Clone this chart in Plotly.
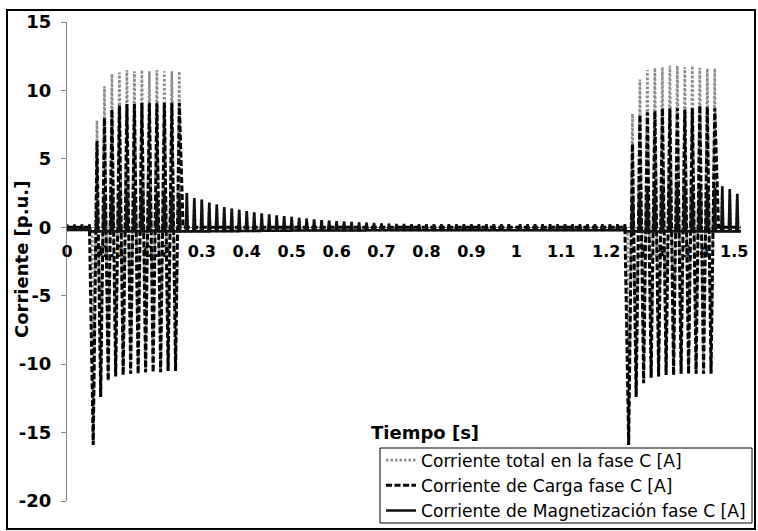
import numpy as np
import plotly.graph_objects as go

# ---------------- data ----------------
FREQ_HZ = 60.0
PERIOD = 1.0 / FREQ_HZ
HALF_PERIOD = PERIOD / 2.0
N_HALF = 181                     # half-period samples covering 0 .. 1.5 s

# Magnetising current: one pulse peak per cycle.
# Part A: pulses at t = k/60, k = 0..59 ; Part B: pulses at t = (k+0.5)/60, k = 60..89
mag_peaks = [0.2, 0.2, 0.2, 0.2,
             1.8, 2.4, 2.6, 2.6, 2.6, 2.6, 2.6, 2.5, 2.5, 2.5, 2.5, 2.5,
             2.5, 2.14, 2.02, 1.8, 1.66, 1.48, 1.36, 1.27, 1.18, 1.1, 1.02,
             0.94, 0.88, 0.81, 0.76, 0.69, 0.63, 0.57, 0.52, 0.49, 0.45,
             0.42, 0.39, 0.36, 0.33, 0.31, 0.29, 0.27, 0.25, 0.24, 0.23,
             0.23, 0.22, 0.22, 0.22, 0.22, 0.22, 0.22, 0.22, 0.22, 0.22,
             0.22, 0.22, 0.22,
             0.22, 0.22, 0.22, 0.22, 0.22, 0.22, 0.22, 0.22, 0.22, 0.22,
             0.22, 0.22, 0.22, 0.22, 0.22,
             2.2, 2.6, 3.0, 3.1, 3.0, 3.1, 3.1, 3.0, 3.0, 2.8, 2.8, 2.9,
             3.0, 2.8, 2.45]
# level of the magnetising current between a pulse and the next one
mag_lows = [-0.2, -0.2, -0.2,
            -0.3, -0.3, -0.3, -0.3, -0.3, -0.3, -0.3, -0.3, -0.3, -0.3,
            -0.3, -0.3, -0.3,
            -0.3, -0.3, -0.3, -0.29, -0.29, -0.28, -0.28, -0.27, -0.27,
            -0.26, -0.25, -0.25, -0.25, -0.25, -0.24, -0.24, -0.24, -0.24,
            -0.23, -0.23, -0.23, -0.23, -0.23, -0.23, -0.22, -0.22, -0.22,
            -0.22, -0.22, -0.22, -0.22, -0.22, -0.22, -0.22, -0.22, -0.22,
            -0.22, -0.22, -0.22, -0.22, -0.22, -0.22, -0.22, -0.22,
            -0.22, -0.22, -0.22, -0.22, -0.22, -0.22, -0.22, -0.22, -0.22,
            -0.22, -0.22, -0.22, -0.22, -0.22,
            -0.3, -0.3, -0.3, -0.3, -0.3, -0.3, -0.3, -0.3, -0.3, -0.3,
            -0.3, -0.3, -0.3,
            -0.3, -0.3, -0.3]

# Load current (half-period extrema), zero outside the two load periods
load_troughs_1 = [-15.9, -12.4, -11.2, -10.9, -10.8, -10.7, -10.7, -10.6,
                  -10.6, -10.6, -10.5, -10.5]
load_peaks_1 = [6.3, 8.0, 8.6, 8.9, 9.0, 9.0, 9.1, 9.1, 9.1, 9.1, 9.1, 9.1]
load_troughs_2 = [-15.9, -12.4, -11.4, -11.0, -10.9, -10.8, -10.8, -10.7,
                  -10.7, -10.7, -10.7, -10.7]
load_peaks_2 = [6.1, 8.2, 8.4, 8.5, 8.7, 8.7, 8.7, 8.6, 8.7, 8.9, 8.8, 8.7]

# Total current during the load periods (elsewhere it equals the magnetising current)
total_troughs_1 = [-15.9, -12.4, -11.2, -10.9, -10.8, -10.7, -10.7, -10.6,
                   -10.6, -10.6, -10.5, -10.5]
total_peaks_1 = [7.8, 10.3, 11.2, 11.3, 11.5, 11.4, 11.5, 11.4, 11.5, 11.4,
                 11.4, 11.4]
total_troughs_2 = [-15.9, -12.4, -11.4, -11.0, -10.9, -10.8, -10.8, -10.7,
                   -10.7, -10.7, -10.7, -10.7]
total_peaks_2 = [8.3, 10.8, 11.5, 11.65, 11.7, 11.8, 11.8, 11.7, 11.8, 11.65,
                 11.6, 11.6]

x_tick_vals = [0, 0.1, 0.2, 0.3, 0.4, 0.5, 0.6, 0.7, 0.8, 0.9, 1.0, 1.1, 1.2,
               1.3, 1.4]
x_tick_text = ["0", "0.1", "0.2", "0.3", "0.4", "0.5", "0.6", "0.7", "0.8",
               "0.9", "1", "1.1", "1.2", "1.3", "1.4"]
x_last_tick = (1.5, "1.5")
y_tick_vals = [-20, -15, -10, -5, 0, 5, 10, 15]
y_tick_text = ["-20", "-15", "-10", "-5", "0", "5", "10", "15"]

names = ["Corriente total en la fase C [A]",
         "Corriente de Carga fase C [A]",
         "Corriente de Magnetización fase C [A]"]

# ---------------- assemble series ----------------
# load: extrema every half period
t_half = np.arange(N_HALF) * HALF_PERIOD
load = np.zeros(N_HALF)
load[7:30:2] = load_troughs_1
load[8:31:2] = load_peaks_1
load[150:173:2] = load_troughs_2
load[151:174:2] = load_peaks_2

# magnetising current: fine grid (8 samples per cycle), narrow pulses
SUB = 8
Q = SUB // 2                      # fine samples per half period
N_FINE = 90 * SUB + 1
t_fine = np.arange(N_FINE) * (PERIOD / SUB)
peak_pos = [SUB * k for k in range(60)] + [SUB * k + Q for k in range(60, 90)]
mag = np.zeros(N_FINE)
for k, p in enumerate(peak_pos):
    mag[p] = mag_peaks[k]
    nxt = peak_pos[k + 1] if k + 1 < len(peak_pos) else N_FINE
    mag[p + 1:nxt] = mag_lows[k]

# total current: the magnetising current outside the load periods,
# the read half-period extrema inside them
total_full = mag.copy()
keep = np.ones(N_FINE, dtype=bool)
for a, b, tr, pk in [(7, 30, total_troughs_1, total_peaks_1),
                     (150, 173, total_troughs_2, total_peaks_2)]:
    keep[Q * a:Q * b + 1] = False
    keep[Q * a:Q * b + 1:Q] = True
    total_full[Q * a:Q * b + 1:2 * Q] = tr
    total_full[Q * (a + 1):Q * b + 1:2 * Q] = pk
t_total = t_fine[keep]
total = total_full[keep]

# ---------------- figure ----------------
fig = go.Figure()
fig.add_trace(go.Scatter(x=t_total, y=total, mode="lines", name=names[0],
                         line=dict(color="#8c8c8c", width=2.6, dash="2.5px,2px",
                                   simplify=False)))
fig.add_trace(go.Scatter(x=t_half, y=load, mode="lines", name=names[1],
                         line=dict(color="black", width=3.0, dash="6px,2.5px",
                                   simplify=False)))
fig.add_trace(go.Scatter(x=t_fine, y=mag, mode="lines", name=names[2],
                         line=dict(color="#111111", width=2.6, simplify=False)))

x_tick_font = dict(family="DejaVu Sans", size=16, color="black", weight="bold")
y_tick_font = dict(family="DejaVu Sans", size=18, color="black", weight="bold")
title_font = dict(family="DejaVu Sans", size=18, color="black", weight="bold")

W, H = 758, 531
L, R, T, B = 67, 17, 22, 30
pw, ph = W - L - R, H - T - B


def px_to_paper_x(px):
    return (px - L) / pw


def px_to_paper_y(py):
    return (H - B - py) / ph


fig.update_layout(
    width=W, height=H,
    margin=dict(l=L, r=R, t=T, b=B, pad=0, autoexpand=False),
    paper_bgcolor="white", plot_bgcolor="white",
    showlegend=True,
    legend=dict(x=px_to_paper_x(381), y=px_to_paper_y(442.5),
                xanchor="left", yanchor="top",
                bgcolor="rgba(0,0,0,0)", borderwidth=0,
                font=dict(family="DejaVu Sans", size=17.1, color="black"),
                itemwidth=30, tracegroupgap=0, traceorder="normal"),
    xaxis=dict(range=[0, 1.5], tickvals=x_tick_vals, ticktext=x_tick_text,
               tickfont=x_tick_font, showgrid=False, zeroline=False,
               showline=True, linecolor="#868686", linewidth=1,
               ticks="", anchor="free", position=20 / 35, automargin=False,
               layer="below traces", ticklabelstandoff=10),
    yaxis=dict(range=[-20, 15], tickvals=y_tick_vals, ticktext=y_tick_text,
               tickfont=y_tick_font, automargin=False,
               showgrid=False, zeroline=False, showline=True,
               linecolor="#868686", linewidth=1, ticks="outside", ticklen=5,
               tickcolor="#868686", layer="below traces",
               ticklabelstandoff=6),
    annotations=[
        dict(text="Corriente [p.u.]", xref="paper", yref="paper",
             x=px_to_paper_x(21), y=px_to_paper_y(260), textangle=-90,
             showarrow=False, font=title_font,
             xanchor="center", yanchor="middle"),
        dict(text="Tiempo [s]", xref="paper", yref="paper",
             x=px_to_paper_x(425), y=px_to_paper_y(432),
             showarrow=False, font=title_font,
             xanchor="center", yanchor="middle"),
        dict(text=x_last_tick[1], xref="x", yref="y",
             x=x_last_tick[0], y=0, xanchor="center", yanchor="top",
             xshift=-7, yshift=-13, showarrow=False, font=x_tick_font),
    ],
    shapes=[
        dict(type="rect", xref="paper", yref="paper",
             x0=px_to_paper_x(380), x1=px_to_paper_x(752),
             y0=px_to_paper_y(523), y1=px_to_paper_y(448),
             line=dict(color="black", width=1), fillcolor="white",
             layer="above"),
        dict(type="rect", xref="paper", yref="paper",
             x0=px_to_paper_x(7), x1=px_to_paper_x(755),
             y0=px_to_paper_y(529), y1=px_to_paper_y(10),
             line=dict(color="black", width=2), fillcolor="rgba(0,0,0,0)",
             layer="above"),
    ],
)

fig.write_html("out.html")
